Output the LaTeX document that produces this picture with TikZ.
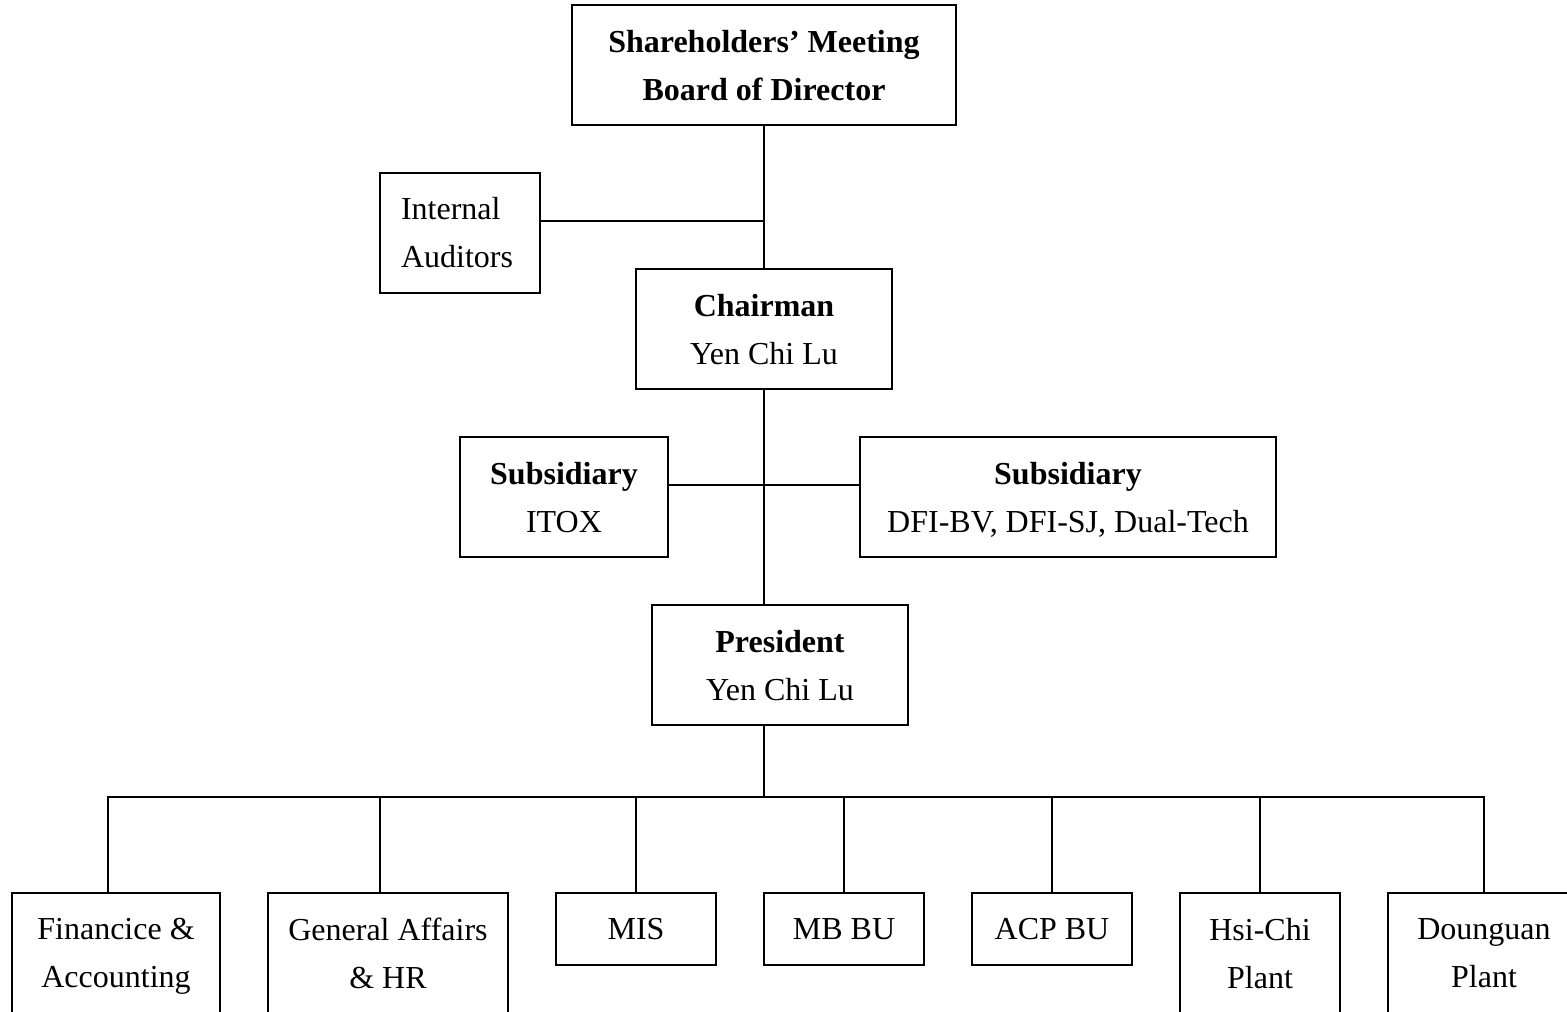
\documentclass[tikz,border=0pt]{standalone}
\usepackage{fontspec}
\setmainfont{Liberation Serif}
\usepackage{tikz}

\begin{document}
\begin{tikzpicture}[
  x=0.375pt, y=-0.375pt,
  font=\fontsize{12pt}{18pt}\selectfont,
  box/.style={draw, line width=0.75pt, inner sep=0pt, minimum height=45pt,
              text depth=0pt, align=center},
  lowbox/.style={box, minimum height=27pt},
  link/.style={draw, line width=0.75pt}]
\useasboundingbox (0,0) rectangle (1567,1011);
\clip (0,0) rectangle (1567,1011);
% top of the chart
\node[box, minimum width=144pt] (share) at (764,65)
  {\textbf{Shareholders’ Meeting}\\\textbf{Board of Director}};
\node[box, align=left, inner xsep=7.9pt, text width=44.2pt, text depth={}] (audit)
  at (460,233) {Internal\\Auditors};
\node[box, minimum width=96pt] (chair) at (764,329) {\textbf{Chairman}\\Yen Chi Lu};
\node[box, minimum width=78pt] (subitox) at (564,497) {\textbf{Subsidiary}\\ITOX};
\node[box, minimum width=156pt] (subdfi) at (1068,497)
  {\textbf{Subsidiary}\\DFI-BV, DFI-SJ, Dual-Tech};
\node[box, minimum width=96pt] (pres) at (780,665) {\textbf{President}\\Yen Chi Lu};
% departments
\node[box, minimum width=78pt] (fin) at (116,953) {Financice \&\\Accounting};
\node[box, minimum width=90pt] (ga) at (388,953) {General Affairs\\\& HR};
\node[lowbox, minimum width=60pt] (mis) at (636,929) {MIS};
\node[lowbox, minimum width=60pt] (mb) at (844,929) {MB BU};
\node[lowbox, minimum width=60pt] (acp) at (1052,929) {ACP BU};
\node[box, minimum width=60pt] (hsichi) at (1260,953) {Hsi-Chi\\Plant};
\node[box, minimum width=72pt] (dgplant) at (1484,953) {Dounguan\\Plant};
% joints
\coordinate (auditj) at (764,221);
\coordinate (subj) at (764,485);
\coordinate (bus) at (764,797);
\draw[link] (share.south) -- (chair.north);
\draw[link] (audit.east |- auditj) -- (auditj);
\draw[link] (chair.south) -- (chair.south |- pres.north);
\draw[link] (subitox.east |- subj) -- (subdfi.west |- subj);
\draw[link] (chair.south |- pres.south) -- (bus);
\foreach \n/\dx in {fin/-3pt, ga/-3pt, mis/0pt, mb/0pt, acp/0pt, hsichi/0pt, dgplant/0pt}
  \draw[link] (bus) -| ([xshift=\dx]\n.north);
\end{tikzpicture}
\end{document}
